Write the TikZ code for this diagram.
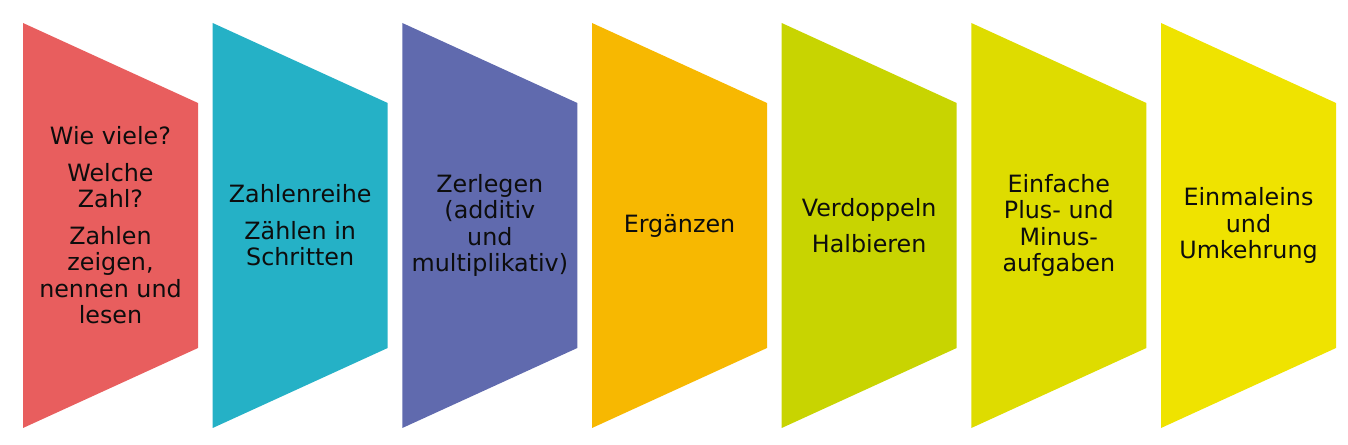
\documentclass[tikz,border=0pt]{standalone}
\usepackage{fontspec}
\setmainfont{DejaVu Sans}
\usetikzlibrary{calc}

\definecolor{stepred}{HTML}{E85E5E}
\definecolor{stepteal}{HTML}{25B1C6}
\definecolor{stepblue}{HTML}{606AAE}
\definecolor{steporange}{HTML}{F7B801}
\definecolor{steplime}{HTML}{C8D401}
\definecolor{stepyelgreen}{HTML}{DEDC00}
\definecolor{stepyellow}{HTML}{EFE300}

\begin{document}
\begin{tikzpicture}[%
  x=1pt, y=1pt,
  steptext/.style={align=center, inner sep=0pt, text=black!95,
    font=\fontsize{23.8}{26.5}\selectfont},
]
  \useasboundingbox (0,0) rectangle (1348,444);

  \coordinate (P1) at (23.00,421);
  \coordinate (P2) at (212.67,421);
  \coordinate (P3) at (402.33,421);
  \coordinate (P4) at (592.00,421);
  \coordinate (P5) at (781.67,421);
  \coordinate (P6) at (971.33,421);
  \coordinate (P7) at (1161.00,421);

  \fill[stepred] (P1) -- ++(175,-80) -- ++(0,-245) -- ++(-175,-80) -- cycle;
  \fill[stepteal] (P2) -- ++(175,-80) -- ++(0,-245) -- ++(-175,-80) -- cycle;
  \fill[stepblue] (P3) -- ++(175,-80) -- ++(0,-245) -- ++(-175,-80) -- cycle;
  \fill[steporange] (P4) -- ++(175,-80) -- ++(0,-245) -- ++(-175,-80) -- cycle;
  \fill[steplime] (P5) -- ++(175,-80) -- ++(0,-245) -- ++(-175,-80) -- cycle;
  \fill[stepyelgreen] (P6) -- ++(175,-80) -- ++(0,-245) -- ++(-175,-80) -- cycle;
  \fill[stepyellow] (P7) -- ++(175,-80) -- ++(0,-245) -- ++(-175,-80) -- cycle;

  \node[steptext] (wieviele) at ($(P1)+(87.5,-202.5)$)
    {Wie viele?\\[10pt]Welche\\Zahl?\\[10pt]Zahlen\\zeigen,\\nennen und\\lesen};
  \node[steptext] (zahlenreihe) at ($(P2)+(87.5,-202.5)$)
    {Zahlenreihe\\[10pt]Zählen in\\Schritten};
  \node[steptext] (zerlegen) at ($(P3)+(87.5,-202.5)$)
    {Zerlegen\\(additiv\\und\\multiplikativ)};
  \node[steptext] (ergaenzen) at ($(P4)+(87.5,-202.5)$)
    {Ergänzen};
  \node[steptext] (verdoppeln) at ($(P5)+(87.5,-202.5)$)
    {Verdoppeln\\[10pt]Halbieren};
  \node[steptext] (plusminus) at ($(P6)+(87.5,-202.5)$)
    {Einfache\\Plus- und\\Minus-\\aufgaben};
  \node[steptext] (einmaleins) at ($(P7)+(87.5,-202.5)$)
    {Einmaleins\\und\\Umkehrung};

\end{tikzpicture}
\end{document}
